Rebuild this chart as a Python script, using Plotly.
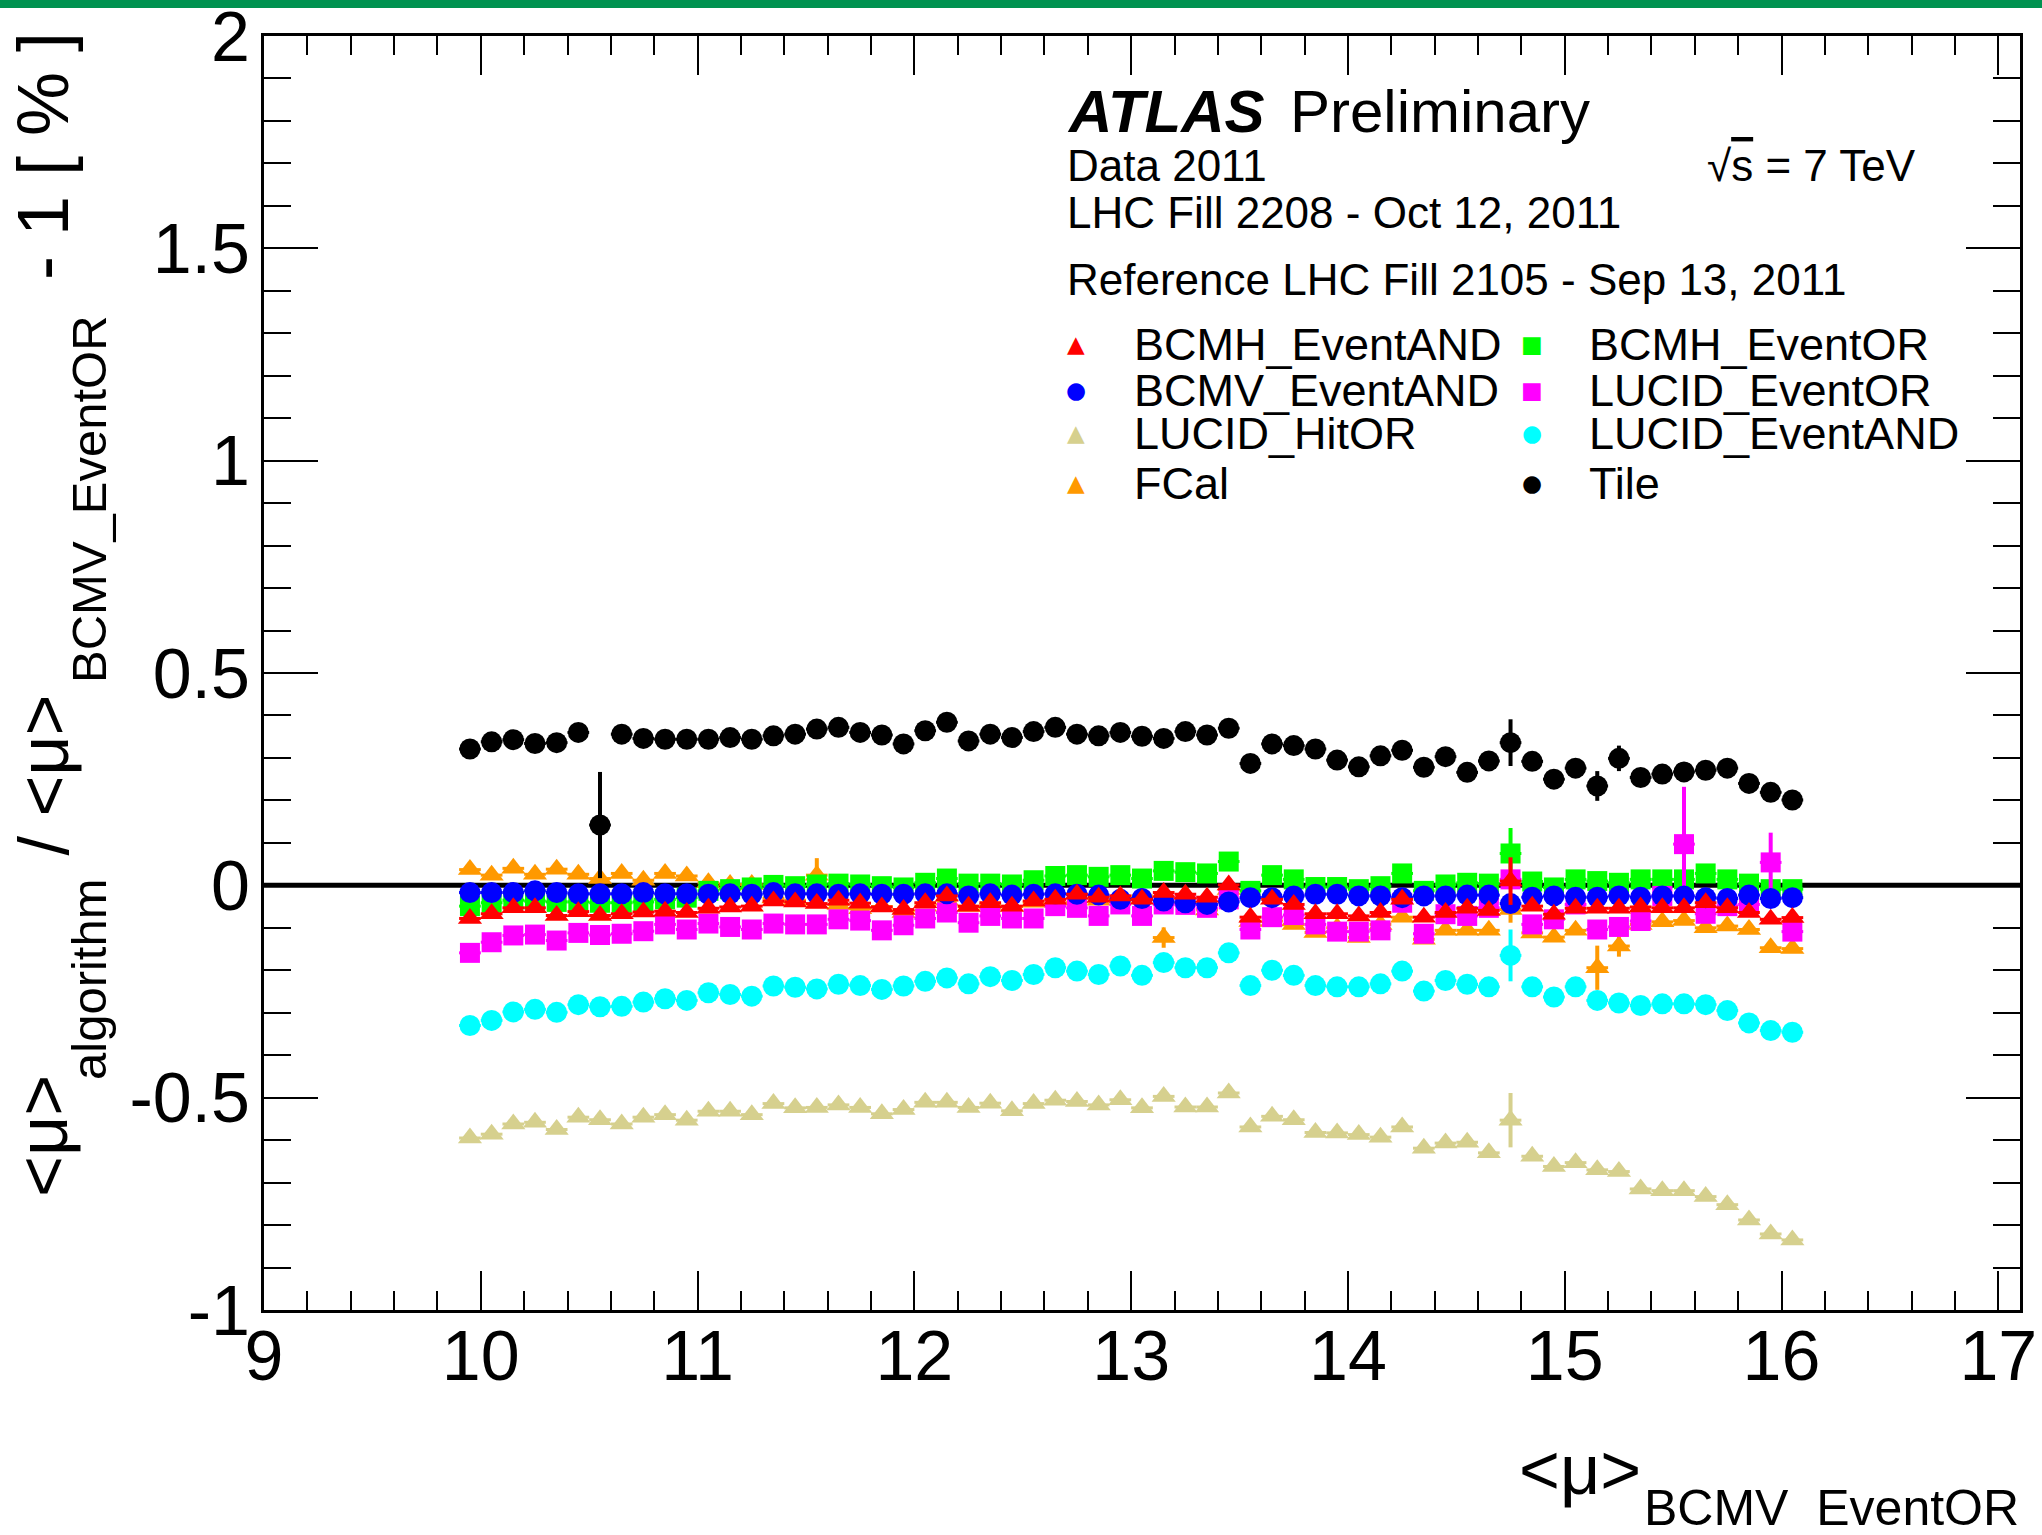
import plotly.graph_objects as go

# ---------------- data ----------------
X_BINS = [9.95, 10.05, 10.15, 10.25, 10.35, 10.45, 10.55, 10.65, 10.75, 10.85,
          10.95, 11.05, 11.15, 11.25, 11.35, 11.45, 11.55, 11.65, 11.75, 11.85,
          11.95, 12.05, 12.15, 12.25, 12.35, 12.45, 12.55, 12.65, 12.75, 12.85,
          12.95, 13.05, 13.15, 13.25, 13.35, 13.45, 13.55, 13.65, 13.75, 13.85,
          13.95, 14.05, 14.15, 14.25, 14.35, 14.45, 14.55, 14.65, 14.75, 14.85,
          14.95, 15.05, 15.15, 15.25, 15.35, 15.45, 15.55, 15.65, 15.75, 15.85,
          15.95, 16.05]
X_HALF_WIDTH = 0.05

BCMH_EVENTAND = [-0.078, -0.067, -0.053, -0.053, -0.071, -0.062, -0.071, -0.067, -0.063, -0.061,
                 -0.064, -0.054, -0.051, -0.049, -0.037, -0.039, -0.043, -0.035, -0.042, -0.051,
                 -0.057, -0.041, -0.025, -0.049, -0.041, -0.049, -0.037, -0.033, -0.021, -0.028,
                 -0.025, -0.033, -0.017, -0.021, -0.028, 0.001, -0.075, -0.033, -0.045, -0.067,
                 -0.067, -0.072, -0.064, -0.033, -0.075, -0.064, -0.054, -0.059, 0.010, -0.049,
                 -0.068, -0.054, -0.054, -0.054, -0.051, -0.053, -0.053, -0.041, -0.053, -0.064,
                 -0.080, -0.076]
BCMH_EVENTOR = [-0.049, -0.041, -0.035, -0.037, -0.039, -0.039, -0.041, -0.041, -0.039, -0.033,
                -0.029, -0.013, -0.009, -0.005, 0.001, -0.002, 0.002, 0.004, 0.002, -0.002,
                -0.005, 0.006, 0.016, 0.004, 0.004, 0.002, 0.012, 0.022, 0.024, 0.020,
                0.024, 0.016, 0.034, 0.031, 0.028, 0.056, -0.013, 0.024, 0.014, -0.004,
                -0.004, -0.009, -0.002, 0.028, -0.013, 0.002, 0.006, 0.004, 0.075, 0.009,
                -0.005, 0.014, 0.010, 0.006, 0.014, 0.014, 0.014, 0.028, 0.014, 0.004,
                -0.009, -0.009]
BCMV_EVENTAND = [-0.017, -0.017, -0.017, -0.013, -0.017, -0.020, -0.020, -0.020, -0.017, -0.020,
                 -0.020, -0.021, -0.020, -0.021, -0.017, -0.020, -0.020, -0.021, -0.020, -0.021,
                 -0.021, -0.020, -0.020, -0.025, -0.020, -0.023, -0.021, -0.020, -0.021, -0.023,
                 -0.033, -0.031, -0.037, -0.041, -0.045, -0.039, -0.029, -0.029, -0.025, -0.021,
                 -0.021, -0.025, -0.025, -0.029, -0.025, -0.025, -0.023, -0.023, -0.043, -0.028,
                 -0.025, -0.028, -0.028, -0.025, -0.028, -0.025, -0.025, -0.029, -0.031, -0.023,
                 -0.031, -0.029]
LUCID_EVENTOR = [-0.159, -0.134, -0.118, -0.116, -0.130, -0.112, -0.117, -0.114, -0.108, -0.092,
                 -0.104, -0.090, -0.098, -0.104, -0.090, -0.092, -0.092, -0.080, -0.083, -0.106,
                 -0.094, -0.078, -0.064, -0.088, -0.072, -0.078, -0.078, -0.049, -0.053, -0.072,
                 -0.045, -0.072, -0.045, -0.046, -0.053, -0.033, -0.104, -0.075, -0.070, -0.092,
                 -0.109, -0.109, -0.106, -0.041, -0.114, -0.068, -0.072, -0.053, 0.014, -0.092,
                 -0.080, -0.045, -0.104, -0.098, -0.084, -0.025, 0.097, -0.067, -0.049, -0.045,
                 0.054, -0.109]
LUCID_HITOR = [-0.595, -0.586, -0.562, -0.558, -0.575, -0.546, -0.552, -0.562, -0.546, -0.540,
               -0.553, -0.532, -0.532, -0.540, -0.514, -0.524, -0.523, -0.517, -0.523, -0.538,
               -0.528, -0.511, -0.511, -0.523, -0.513, -0.531, -0.514, -0.506, -0.509, -0.517,
               -0.505, -0.524, -0.497, -0.522, -0.522, -0.489, -0.569, -0.544, -0.552, -0.582,
               -0.583, -0.587, -0.593, -0.569, -0.619, -0.607, -0.605, -0.630, -0.553, -0.638,
               -0.662, -0.653, -0.670, -0.674, -0.715, -0.719, -0.719, -0.733, -0.752, -0.788,
               -0.821, -0.835]
LUCID_EVENTAND = [-0.330, -0.318, -0.298, -0.292, -0.299, -0.281, -0.286, -0.285, -0.275, -0.267,
                  -0.271, -0.253, -0.257, -0.261, -0.237, -0.240, -0.244, -0.233, -0.236, -0.245,
                  -0.237, -0.226, -0.218, -0.232, -0.215, -0.224, -0.210, -0.194, -0.202, -0.210,
                  -0.190, -0.212, -0.182, -0.194, -0.194, -0.159, -0.236, -0.200, -0.212, -0.236,
                  -0.239, -0.239, -0.232, -0.202, -0.249, -0.224, -0.233, -0.239, -0.165, -0.239,
                  -0.263, -0.239, -0.271, -0.277, -0.283, -0.279, -0.279, -0.281, -0.295, -0.324,
                  -0.342, -0.346]
FCAL = [0.037, 0.024, 0.040, 0.026, 0.038, 0.026, 0.016, 0.028, 0.012, 0.028,
        0.022, 0.006, 0.002, 0.002, -0.030, -0.035, 0.024, -0.045, -0.055, -0.050,
        -0.064, -0.049, -0.035, -0.050, -0.045, -0.050, -0.040, -0.035, -0.030, -0.035,
        -0.030, -0.025, -0.123, -0.030, -0.058, -0.010, -0.085, -0.084, -0.092, -0.111,
        -0.100, -0.123, -0.092, -0.075, -0.127, -0.106, -0.106, -0.106, -0.057, -0.112,
        -0.122, -0.106, -0.194, -0.143, -0.092, -0.086, -0.083, -0.100, -0.096, -0.104,
        -0.147, -0.149]
TILE = [0.321, 0.338, 0.343, 0.334, 0.336, 0.360, 0.142, 0.356, 0.346, 0.344,
        0.344, 0.344, 0.348, 0.344, 0.352, 0.356, 0.368, 0.372, 0.360, 0.354,
        0.333, 0.364, 0.384, 0.340, 0.356, 0.348, 0.362, 0.372, 0.356, 0.352,
        0.360, 0.351, 0.346, 0.362, 0.354, 0.370, 0.287, 0.333, 0.329, 0.321,
        0.295, 0.279, 0.305, 0.318, 0.278, 0.303, 0.266, 0.293, 0.336, 0.292,
        0.250, 0.276, 0.234, 0.299, 0.254, 0.262, 0.267, 0.271, 0.276, 0.240,
        0.219, 0.201]

# statistical uncertainty: a small common value, plus the bins with visibly larger bars
BASE_ERR = 0.008
LARGE_ERRORS = {
    "BCMH_EventAND": {14.75: 0.056},
    "BCMH_EventOR": {14.75: 0.060},
    "BCMV_EventAND": {},
    "LUCID_EventOR": {15.55: 0.135, 15.95: 0.070},
    "LUCID_HitOR": {14.75: 0.064},
    "LUCID_EventAND": {14.75: 0.061},
    "FCal": {11.55: 0.040, 13.15: 0.024, 14.75: 0.031, 15.15: 0.052, 15.25: 0.025},
    "Tile": {10.55: 0.125, 14.25: 0.023, 14.75: 0.055, 15.15: 0.035, 15.25: 0.030},
}

X_TICKS = [9, 10, 11, 12, 13, 14, 15, 16, 17]
X_TICK_TEXT = ["9", "10", "11", "12", "13", "14", "15", "16", "17"]
Y_TICKS = [-1, -0.5, 0, 0.5, 1, 1.5, 2]
Y_TICK_TEXT = ["-1", "-0.5", "0", "0.5", "1", "1.5", "2"]

# ---------------- styling ----------------
W, H = 2042, 1535
L, R, T, B = 264, 22, 36, 225
PW, PH = W - L - R, H - T - B
FONT = "Liberation Sans, Arial, Helvetica, sans-serif"


def pxx(x):
    return (x - L) / PW


def pxy(y):
    return (H - B - y) / PH


SERIES = {
    # name: (values, color, symbol, size, draw order)
    "BCMH_EventAND": (BCMH_EVENTAND, "#ff0000", "triangle-up", 21, 7),
    "BCMH_EventOR": (BCMH_EVENTOR, "#00ff00", "square", 20, 4),
    "BCMV_EventAND": (BCMV_EVENTAND, "#0000ff", "circle", 21, 6),
    "LUCID_EventOR": (LUCID_EVENTOR, "#ff00ff", "square", 20, 5),
    "LUCID_HitOR": (LUCID_HITOR, "#d6d08e", "triangle-up", 21, 1),
    "LUCID_EventAND": (LUCID_EVENTAND, "#00ffff", "circle", 21, 2),
    "FCal": (FCAL, "#ff9900", "triangle-up", 21, 3),
    "Tile": (TILE, "#000000", "circle", 21, 8),
}

fig = go.Figure()
for name, (vals, color, symbol, size, order) in sorted(SERIES.items(), key=lambda kv: kv[1][4]):
    errs = [LARGE_ERRORS[name].get(round(xv, 2), BASE_ERR) for xv in X_BINS]
    fig.add_trace(go.Scatter(
        x=X_BINS, y=vals, mode="markers", name=name, showlegend=False,
        marker=dict(color=color, symbol=symbol, size=size, line=dict(width=0)),
        error_y=dict(type="data", array=errs, color=color, thickness=4, width=0),
        error_x=dict(type="constant", value=X_HALF_WIDTH, color=color, thickness=3, width=0),
    ))

axis_common = dict(
    showgrid=False, zeroline=False, showline=True, linecolor="black", linewidth=3,
    mirror="allticks", ticks="inside", tickcolor="black", tickwidth=2,
    tickfont=dict(family=FONT, size=70, color="black"), ticklabeloverflow="allow",
)
fig.update_xaxes(range=[9, 17.1], tickmode="array", tickvals=X_TICKS, ticktext=X_TICK_TEXT,
                 ticklen=39, minor=dict(ticks="inside", dtick=0.2, ticklen=19, tickwidth=2,
                                        tickcolor="black"),
                 ticklabelstandoff=-17, **axis_common)
fig.update_yaxes(range=[-1, 2], tickmode="array", tickvals=Y_TICKS, ticktext=Y_TICK_TEXT,
                 ticklen=54, minor=dict(ticks="inside", dtick=0.1, ticklen=27, tickwidth=2,
                                        tickcolor="black"),
                 ticklabelstandoff=-3, **axis_common)

shapes = [
    dict(type="line", xref="paper", yref="y", x0=0, x1=1, y0=0, y1=0,
         line=dict(color="black", width=5), layer="below"),
    dict(type="rect", xref="paper", yref="paper", x0=pxx(0), x1=pxx(W), y0=pxy(8), y1=pxy(-5),
         fillcolor="rgb(0,146,80)", line=dict(width=0)),
]

annotations = []


def txt(text, x, y, size, xanchor="left", yanchor="middle", angle=0, color="black", family=FONT):
    annotations.append(dict(text=text, x=pxx(x), y=pxy(y), xref="paper", yref="paper",
                            xanchor=xanchor, yanchor=yanchor, textangle=angle, showarrow=False,
                            font=dict(family=family, size=size, color=color), borderpad=0))


# header text
txt("<b><i>ATLAS</i></b>", 1066, 111, 60)
txt("Preliminary", 1289, 111, 60)
txt("Data 2011", 1066, 165, 44)
txt("√<span style='text-decoration:overline'>s</span> = 7 TeV", 1917, 165, 44, xanchor="right")
txt("LHC Fill 2208 - Oct 12, 2011", 1066, 213, 44)
txt("Reference LHC Fill 2105 - Sep 13, 2011", 1066, 279, 44)

# legend (two columns, row-wise order)
LEGEND_ROWS = [344, 390, 433, 483]
LEGEND_COLS = [(1076, 1133), (1532, 1588)]
GLYPH = {"triangle-up": "▲", "square": "■", "circle": "●"}
for k, name in enumerate(SERIES):
    row, col = divmod(k, 2)
    gx, tx = LEGEND_COLS[col]
    color, symbol = SERIES[name][1], SERIES[name][2]
    txt(GLYPH[symbol], gx, LEGEND_ROWS[row], 23, xanchor="center", color=color,
        family="DejaVu Sans")
    txt(name, tx, LEGEND_ROWS[row], 45)

# x axis title
txt("&lt;μ&gt;", 1518, 1470, 70)
txt("BCMV  EventOR", 1643, 1508, 50)

# y axis title (rotated pieces, reading bottom-to-top)
MAIN_C, SUB_C = 43, 89
txt("&lt;μ&gt;", MAIN_C, 1198, 70, xanchor="center", yanchor="bottom", angle=-90)
txt("algorithm", SUB_C, 1081, 49, xanchor="center", yanchor="bottom", angle=-90)
txt("/ &lt;μ&gt;", MAIN_C, 856, 70, xanchor="center", yanchor="bottom", angle=-90)
txt("BCMV_EventOR", SUB_C, 684, 49, xanchor="center", yanchor="bottom", angle=-90)
txt("- 1 [ % ]", MAIN_C, 281, 72, xanchor="center", yanchor="bottom", angle=-90)

fig.update_layout(
    width=W, height=H, margin=dict(l=L, r=R, t=T, b=B, autoexpand=False),
    paper_bgcolor="white", plot_bgcolor="white", showlegend=False,
    shapes=shapes, annotations=annotations,
    font=dict(family=FONT, color="black"),
)

fig.write_html("out.html", config={"displayModeBar": False},
               post_script="document.body.style.margin='0px';"
                           "document.body.style.overflow='hidden';")
